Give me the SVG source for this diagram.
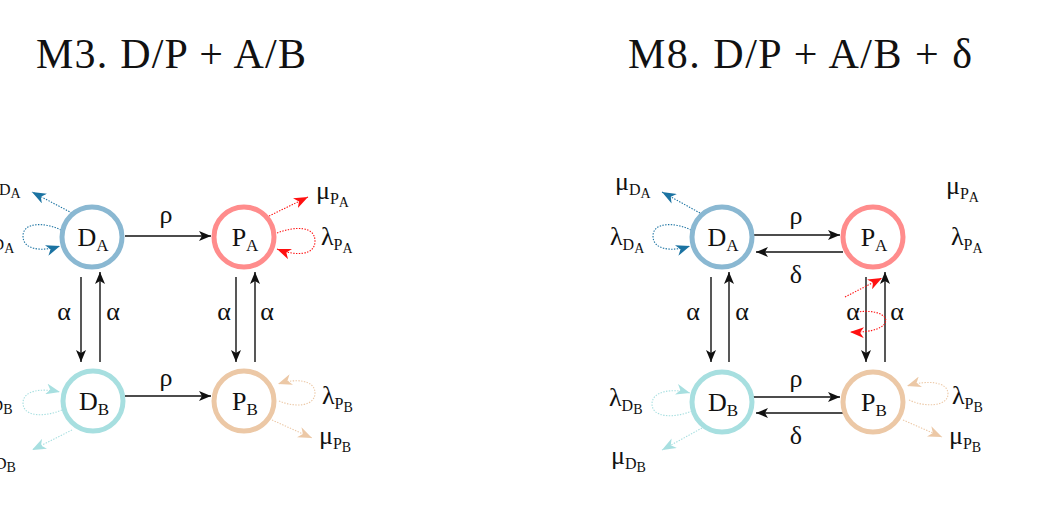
<svg xmlns="http://www.w3.org/2000/svg" width="1053" height="506" viewBox="0 0 1053 506">
<style>
text{font-family:"Liberation Serif","DejaVu Serif",serif;fill:#111}
.title{font-size:42px}
.node{font-size:26px}
.gk{font-size:26px}
.lb{font-size:26px}
.s1{font-size:16px}
.s2{font-size:14px}
.ns{font-size:17px}
.blk{stroke:#111;stroke-width:1.4;fill:none}
.dot{fill:none;stroke-width:1.1;stroke-dasharray:1.4 1.4}
.cda{fill:#fff;stroke:#8ab8d2;stroke-width:5}
.cpa{fill:#fff;stroke:#ff8c8c;stroke-width:5}
.cdb{fill:#fff;stroke:#a7dfe0;stroke-width:5}
.cpb{fill:#fff;stroke:#ecc8a6;stroke-width:5}
.blue{stroke:#1b73a2}
.red{stroke:#ff1010}
.teal{stroke:#a7dfe0}
.tan{stroke:#ecc8a6}
</style>
<defs>
<marker id="mk" viewBox="0 0 12 10" refX="12" refY="5" markerWidth="12" markerHeight="10" markerUnits="userSpaceOnUse" orient="auto"><path d="M0,0 L12,5 L0,10 L3,5 z" fill="#111"/></marker>
<marker id="mblue" viewBox="0 0 14 11" refX="14" refY="5.5" markerWidth="14" markerHeight="11" markerUnits="userSpaceOnUse" orient="auto"><path d="M0,0 L14,5.5 L0,11 L4,5.5 z" fill="#1b73a2"/></marker>
<marker id="mred" viewBox="0 0 14 11" refX="14" refY="5.5" markerWidth="14" markerHeight="11" markerUnits="userSpaceOnUse" orient="auto"><path d="M0,0 L14,5.5 L0,11 L4,5.5 z" fill="#ff1010"/></marker>
<marker id="mteal" viewBox="0 0 14 11" refX="14" refY="5.5" markerWidth="14" markerHeight="11" markerUnits="userSpaceOnUse" orient="auto"><path d="M0,0 L14,5.5 L0,11 L4,5.5 z" fill="#a7dfe0"/></marker>
<marker id="mtan" viewBox="0 0 14 11" refX="14" refY="5.5" markerWidth="14" markerHeight="11" markerUnits="userSpaceOnUse" orient="auto"><path d="M0,0 L14,5.5 L0,11 L4,5.5 z" fill="#ecc8a6"/></marker>
</defs>
<rect width="1053" height="506" fill="#fff"/>

<g id="titles">
<text class="title" x="36" y="68" textLength="270" lengthAdjust="spacing">M3. D/P + A/B</text>
<text class="title" x="628" y="68" textLength="344" lengthAdjust="spacing">M8. D/P + A/B + δ</text>
</g>

<g id="connectors">
<line class="blk" x1="125" y1="236" x2="211" y2="236" marker-end="url(#mk)"/>
<line class="blk" x1="125" y1="396" x2="211" y2="396" marker-end="url(#mk)"/>
<line class="blk" x1="81" y1="277" x2="81" y2="362" marker-end="url(#mk)"/>
<line class="blk" x1="100" y1="362" x2="100" y2="272" marker-end="url(#mk)"/>
<line class="blk" x1="236" y1="277" x2="236" y2="362" marker-end="url(#mk)"/>
<line class="blk" x1="255" y1="362" x2="255" y2="272" marker-end="url(#mk)"/>
<line class="dot blue" x1="72" y1="213" x2="32" y2="192" marker-end="url(#mblue)"/>
<path class="dot blue" d="M61 230 C45 222 23 222 23 236 C23 250 42 252 60 246" marker-end="url(#mblue)"/>
<line class="dot red" x1="269" y1="216" x2="308" y2="197" marker-end="url(#mred)"/>
<path class="dot red" d="M277 233 C295 226 315 226 315 241 C315 256 295 256 277 249" marker-end="url(#mred)"/>
<path class="dot teal" d="M62 410 C42 418 23 416 23 403 C23 390 42 388 60 392" marker-end="url(#mteal)"/>
<line class="dot teal" x1="72" y1="430" x2="32" y2="450" marker-end="url(#mteal)"/>
<path class="dot tan" d="M279 401 C296 408 315 406 315 393 C315 380 296 378 278 384" marker-end="url(#mtan)"/>
<line class="dot tan" x1="272" y1="420" x2="312" y2="438" marker-end="url(#mtan)"/>
<line class="blk" x1="753" y1="235" x2="840" y2="235" marker-end="url(#mk)"/>
<line class="blk" x1="843" y1="252" x2="756" y2="252" marker-end="url(#mk)"/>
<line class="blk" x1="753" y1="397" x2="840" y2="397" marker-end="url(#mk)"/>
<line class="blk" x1="845" y1="413" x2="756" y2="413" marker-end="url(#mk)"/>
<line class="blk" x1="711" y1="277" x2="711" y2="362" marker-end="url(#mk)"/>
<line class="blk" x1="729" y1="362" x2="729" y2="272" marker-end="url(#mk)"/>
<line class="blk" x1="866" y1="277" x2="866" y2="362" marker-end="url(#mk)"/>
<line class="blk" x1="885" y1="362" x2="885" y2="272" marker-end="url(#mk)"/>
<line class="dot blue" x1="700" y1="213" x2="662" y2="192" marker-end="url(#mblue)"/>
<path class="dot blue" d="M691 230 C675 222 653 222 653 236 C653 250 672 252 690 246" marker-end="url(#mblue)"/>
<line class="dot red" x1="845" y1="297" x2="882" y2="278" marker-end="url(#mred)"/>
<path class="dot red" d="M857 312 C895 307 898 334 850 332" marker-end="url(#mred)"/>
<path class="dot teal" d="M692 411 C672 419 652 417 652 404 C652 391 672 388 690 393" marker-end="url(#mteal)"/>
<line class="dot teal" x1="702" y1="428" x2="662" y2="450" marker-end="url(#mteal)"/>
<path class="dot tan" d="M909 400 C926 408 948 406 948 394 C948 381 926 380 907 386" marker-end="url(#mtan)"/>
<line class="dot tan" x1="903" y1="420" x2="942" y2="437" marker-end="url(#mtan)"/>
</g>

<g id="edge-labels">
<text class="gk" x="166" y="223" text-anchor="middle">ρ</text>
<text class="gk" x="166" y="386" text-anchor="middle">ρ</text>
<text class="gk" x="64" y="320" text-anchor="middle">α</text>
<text class="gk" x="113" y="320" text-anchor="middle">α</text>
<text class="gk" x="224" y="320" text-anchor="middle">α</text>
<text class="gk" x="267" y="320" text-anchor="middle">α</text>
<text class="gk" x="796" y="224" text-anchor="middle">ρ</text>
<text class="gk" x="796" y="283" text-anchor="middle">δ</text>
<text class="gk" x="796" y="387" text-anchor="middle">ρ</text>
<text class="gk" x="796" y="444" text-anchor="middle">δ</text>
<text class="gk" x="693" y="320" text-anchor="middle">α</text>
<text class="gk" x="742" y="320" text-anchor="middle">α</text>
<text class="gk" x="853" y="320" text-anchor="middle">α</text>
<text class="gk" x="897" y="320" text-anchor="middle">α</text>
</g>

<g id="rate-labels">
<text class="lb" x="-15" y="190">μ<tspan class="s1" dy="5">D</tspan><tspan class="s2" dy="3">A</tspan></text>
<text class="lb" x="-20" y="245">λ<tspan class="s1" dy="5">D</tspan><tspan class="s2" dy="3">A</tspan></text>
<text class="lb" x="316" y="199">μ<tspan class="s1" dy="5">P</tspan><tspan class="s2" dy="3">A</tspan></text>
<text class="lb" x="321" y="245">λ<tspan class="s1" dy="5">P</tspan><tspan class="s2" dy="3">A</tspan></text>
<text class="lb" x="-21" y="406">λ<tspan class="s1" dy="5">D</tspan><tspan class="s2" dy="3">B</tspan></text>
<text class="lb" x="-19" y="464">μ<tspan class="s1" dy="5">D</tspan><tspan class="s2" dy="3">B</tspan></text>
<text class="lb" x="322" y="404">λ<tspan class="s1" dy="5">P</tspan><tspan class="s2" dy="3">B</tspan></text>
<text class="lb" x="319" y="444">μ<tspan class="s1" dy="5">P</tspan><tspan class="s2" dy="3">B</tspan></text>
<text class="lb" x="615" y="190">μ<tspan class="s1" dy="5">D</tspan><tspan class="s2" dy="3">A</tspan></text>
<text class="lb" x="610" y="245">λ<tspan class="s1" dy="5">D</tspan><tspan class="s2" dy="3">A</tspan></text>
<text class="lb" x="946" y="194">μ<tspan class="s1" dy="5">P</tspan><tspan class="s2" dy="3">A</tspan></text>
<text class="lb" x="951" y="245">λ<tspan class="s1" dy="5">P</tspan><tspan class="s2" dy="3">A</tspan></text>
<text class="lb" x="609" y="406">λ<tspan class="s1" dy="5">D</tspan><tspan class="s2" dy="3">B</tspan></text>
<text class="lb" x="611" y="464">μ<tspan class="s1" dy="5">D</tspan><tspan class="s2" dy="3">B</tspan></text>
<text class="lb" x="952" y="404">λ<tspan class="s1" dy="5">P</tspan><tspan class="s2" dy="3">B</tspan></text>
<text class="lb" x="949" y="444">μ<tspan class="s1" dy="5">P</tspan><tspan class="s2" dy="3">B</tspan></text>
</g>

<g id="M3-DA"><circle class="cda" cx="92" cy="237" r="30"/><text class="node" x="93" y="246" text-anchor="middle">D<tspan class="ns" dy="5">A</tspan></text></g>
<g id="M3-PA"><circle class="cpa" cx="244" cy="237" r="30"/><text class="node" x="245" y="246" text-anchor="middle">P<tspan class="ns" dy="5">A</tspan></text></g>
<g id="M3-DB"><circle class="cdb" cx="93" cy="401" r="30"/><text class="node" x="94" y="410" text-anchor="middle">D<tspan class="ns" dy="5">B</tspan></text></g>
<g id="M3-PB"><circle class="cpb" cx="244" cy="401" r="30"/><text class="node" x="245" y="410" text-anchor="middle">P<tspan class="ns" dy="5">B</tspan></text></g>

<g id="M8-DA"><circle class="cda" cx="722" cy="237" r="30"/><text class="node" x="723" y="246" text-anchor="middle">D<tspan class="ns" dy="5">A</tspan></text></g>
<g id="M8-PA"><circle class="cpa" cx="873" cy="237" r="30"/><text class="node" x="874" y="246" text-anchor="middle">P<tspan class="ns" dy="5">A</tspan></text></g>
<g id="M8-DB"><circle class="cdb" cx="722" cy="402" r="30"/><text class="node" x="723" y="411" text-anchor="middle">D<tspan class="ns" dy="5">B</tspan></text></g>
<g id="M8-PB"><circle class="cpb" cx="873" cy="402" r="30"/><text class="node" x="874" y="411" text-anchor="middle">P<tspan class="ns" dy="5">B</tspan></text></g>
</svg>
